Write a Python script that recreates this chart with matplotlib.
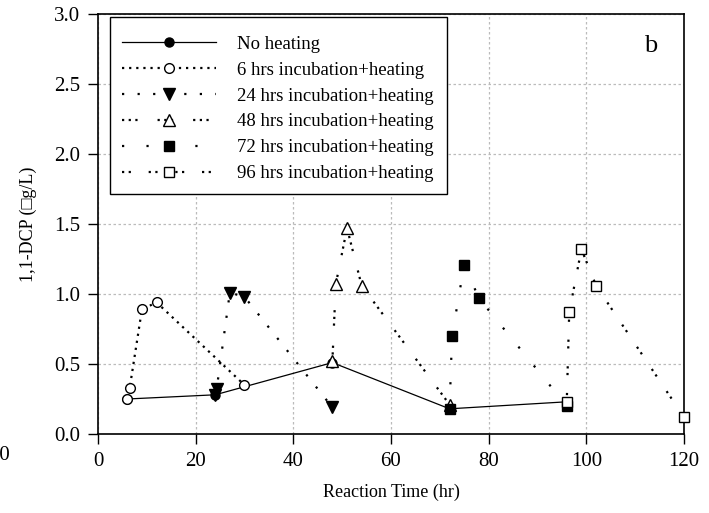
import matplotlib
matplotlib.use("Agg")
import matplotlib.pyplot as plt
from matplotlib.patches import Rectangle

plt.rcParams['font.family'] = ['Liberation Serif', 'DejaVu Serif']

# reaction time (hr) / 1,1-DCP (ug/L)
t_none = [6, 24, 48, 72, 96]
c_none = [0.25, 0.28, 0.51, 0.18, 0.23]

t_6 = [6, 6.5, 9, 12, 30]
c_6 = [0.25, 0.33, 0.89, 0.94, 0.35]

t_24 = [24, 24.3, 27, 30, 48]
c_24 = [0.28, 0.32, 1.01, 0.98, 0.19]

t_48 = [48, 48.7, 51, 54, 72]
c_48 = [0.52, 1.07, 1.47, 1.06, 0.21]

t_72 = [72, 72.5, 75, 78, 96]
c_72 = [0.18, 0.70, 1.21, 0.97, 0.20]

t_96 = [96, 96.5, 99, 102, 120]
c_96 = [0.23, 0.87, 1.32, 1.06, 0.12]

labels = ['No heating', '6 hrs incubation+heating', '24 hrs incubation+heating',
          '48 hrs incubation+heating', '72 hrs incubation+heating',
          '96 hrs incubation+heating']

fig = plt.figure(figsize=(7.09, 5.13), dpi=100)
ax = fig.add_axes([0.1382, 0.154, 0.8265, 0.8187])

ax.plot(t_none, c_none, '-', color='black', lw=0.9, marker='o', ms=6.5,
        mfc='black', mec='black', label=labels[0], zorder=3)
ax.plot(t_6, c_6, color='black', lw=1.6, ls=(0, (1, 2.2)), marker='o', ms=7,
        mfc='white', mec='black', mew=1, label=labels[1], zorder=4)
ax.plot(t_24, c_24, color='black', lw=1.6, ls=(0, (1, 6)), marker='v', ms=8,
        mfc='black', mec='black', label=labels[2], zorder=4)
ax.plot(t_48, c_48, color='black', lw=1.6, ls=(0, (1, 2, 1, 2, 1, 9)), marker='^', ms=8,
        mfc='white', mec='black', mew=1, label=labels[3], zorder=4)
ax.plot(t_72, c_72, color='black', lw=1.6, ls=(0, (1, 10)), marker='s', ms=7,
        mfc='black', mec='black', label=labels[4], zorder=4)
ax.plot(t_96, c_96, color='black', lw=1.6, ls=(0, (1, 2, 1, 8)), marker='s', ms=7,
        mfc='white', mec='black', mew=1, label=labels[5], zorder=5, clip_on=False)

ax.set_xlim(0, 120)
ax.set_ylim(0, 3.0)
ax.set_xticks(range(0, 121, 20))
ax.set_yticks([0, 0.5, 1.0, 1.5, 2.0, 2.5, 3.0])
ax.set_yticklabels(['0.0', '0.5', '1.0', '1.5', '2.0', '2.5', '3.0'])
ax.tick_params(direction='out', length=7, width=1, labelsize=15, pad=6)

ax.grid(True, color='#bbbbbb', ls=(0, (2, 2)), lw=0.9)
ax.set_axisbelow(True)
for s in ax.spines.values():
    s.set_linewidth(1.2)

ax.set_xlabel('Reaction Time (hr)', fontsize=13, labelpad=9)
ax.set_ylabel('1,1-DCP (\u25a1g/L)', fontsize=13, labelpad=12)

# legend box drawn separately: more room above/below than at the sides
box = Rectangle((0.0205, 0.5714), 0.5751, 0.4216, transform=ax.transAxes,
                facecolor='white', edgecolor='black', lw=1, zorder=5.5)
ax.add_patch(box)
leg = ax.legend(loc='upper left', bbox_to_anchor=(0.041, 0.9488), borderaxespad=0,
                fontsize=13.5, numpoints=1, handlelength=5.0, handletextpad=1.15,
                labelspacing=0.47, frameon=False, borderpad=0)
leg.set_zorder(6)

ax.text(0.955, 0.925, 'b', transform=ax.transAxes, fontsize=19, ha='right', va='center')

# cropped remnants of the neighbouring panel
fig.text(10 / 709, 1 - 456 / 513, '20', fontsize=15, ha='right', va='center')
fig.text(-4 / 709, 1 - 266 / 513, '\u25a1', fontsize=13, rotation=90, ha='center', va='center')

fig.savefig('out.png', dpi=100)
